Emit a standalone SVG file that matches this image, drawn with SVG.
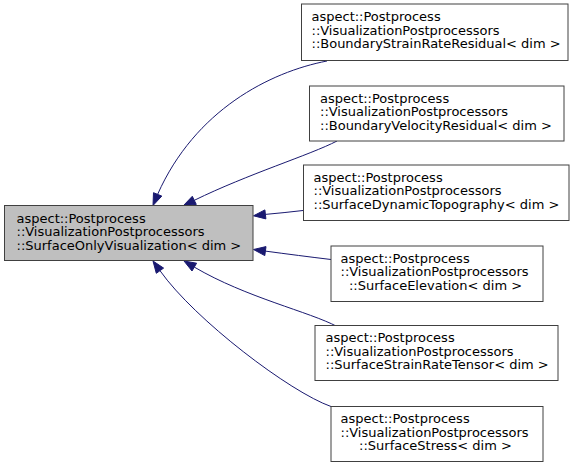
<svg xmlns="http://www.w3.org/2000/svg" width="577" height="467" viewBox="0 0 577 467">
<style>
.bg{fill:#ffffff}
.node rect{fill:#ffffff;stroke:#404040;stroke-width:1}
.node.cur rect{fill:#bfbfbf}
.node text{font-family:"DejaVu Sans","Liberation Sans",sans-serif;font-size:13px;fill:#000000}
.edge path{fill:none;stroke:#191970;stroke-width:1}
.edge polygon{fill:#191970;stroke:#191970;stroke-width:1}
</style>
<rect class="bg" x="0" y="0" width="577" height="467"/>
<g id="connectors">
<g class="edge" id="e1"><path d="M327,61 C270,72 195,110 157.6,194.4"/><polygon points="161.8,196.1 153.5,192.7 153,205.5"/></g>
<g class="edge" id="e2"><path d="M337,141 C310,155 248,174 194.3,200.3"/><polygon points="196.3,204.4 192.3,196.3 183.5,205.5"/></g>
<g class="edge" id="e3"><path d="M303,210.5 C290,212 278,213.3 265.4,214.4"/><polygon points="265.9,218.9 264.9,209.9 253.5,215.8"/></g>
<g class="edge" id="e4"><path d="M331,259.5 C310,257 287,254 265.4,251.1"/><polygon points="264.8,255.6 266,246.6 253.5,249.5"/></g>
<g class="edge" id="e5"><path d="M337,326.5 C310,312 246,297.5 194.3,267.1"/><polygon points="196.6,263.2 192,271 184,261"/></g>
<g class="edge" id="e6"><path d="M331,406.5 C290,392 195,320 160,270.7"/><polygon points="163.6,268.1 156.3,273.3 153,261"/></g>
</g>
<g class="node cur" id="SurfaceOnlyVisualization">
<rect x="4.5" y="205.5" width="248.5" height="55"/>
<text x="16.5" y="222.5">aspect::Postprocess</text>
<text x="16.5" y="236">::VisualizationPostprocessors</text>
<text x="16.5" y="249.5">::SurfaceOnlyVisualization&lt; dim &gt;</text>
</g>
<g class="node" id="BoundaryStrainRateResidual">
<rect x="301.5" y="4" width="266.5" height="56.5"/>
<text x="311.5" y="21">aspect::Postprocess</text>
<text x="311.5" y="34.5">::VisualizationPostprocessors</text>
<text x="311.5" y="48">::BoundaryStrainRateResidual&lt; dim &gt;</text>
</g>
<g class="node" id="BoundaryVelocityResidual">
<rect x="309.5" y="86" width="254.5" height="55"/>
<text x="320" y="102.5">aspect::Postprocess</text>
<text x="320" y="116">::VisualizationPostprocessors</text>
<text x="320" y="129.5">::BoundaryVelocityResidual&lt; dim &gt;</text>
</g>
<g class="node" id="SurfaceDynamicTopography">
<rect x="303.5" y="165" width="265.5" height="55.5"/>
<text x="313.5" y="181.5">aspect::Postprocess</text>
<text x="313.5" y="195">::VisualizationPostprocessors</text>
<text x="313.5" y="208.5">::SurfaceDynamicTopography&lt; dim &gt;</text>
</g>
<g class="node" id="SurfaceElevation">
<rect x="331" y="246" width="212" height="55.5"/>
<text x="340.5" y="262.5">aspect::Postprocess</text>
<text x="340.5" y="276">::VisualizationPostprocessors</text>
<text x="435.5" y="289.5" text-anchor="middle">::SurfaceElevation&lt; dim &gt;</text>
</g>
<g class="node" id="SurfaceStrainRateTensor">
<rect x="315" y="325.5" width="243" height="55"/>
<text x="325.5" y="342">aspect::Postprocess</text>
<text x="325.5" y="355.5">::VisualizationPostprocessors</text>
<text x="325.5" y="369">::SurfaceStrainRateTensor&lt; dim &gt;</text>
</g>
<g class="node" id="SurfaceStress">
<rect x="331" y="406.5" width="212" height="55"/>
<text x="340.5" y="423">aspect::Postprocess</text>
<text x="340.5" y="436.5">::VisualizationPostprocessors</text>
<text x="435.5" y="450" text-anchor="middle">::SurfaceStress&lt; dim &gt;</text>
</g>
</svg>
